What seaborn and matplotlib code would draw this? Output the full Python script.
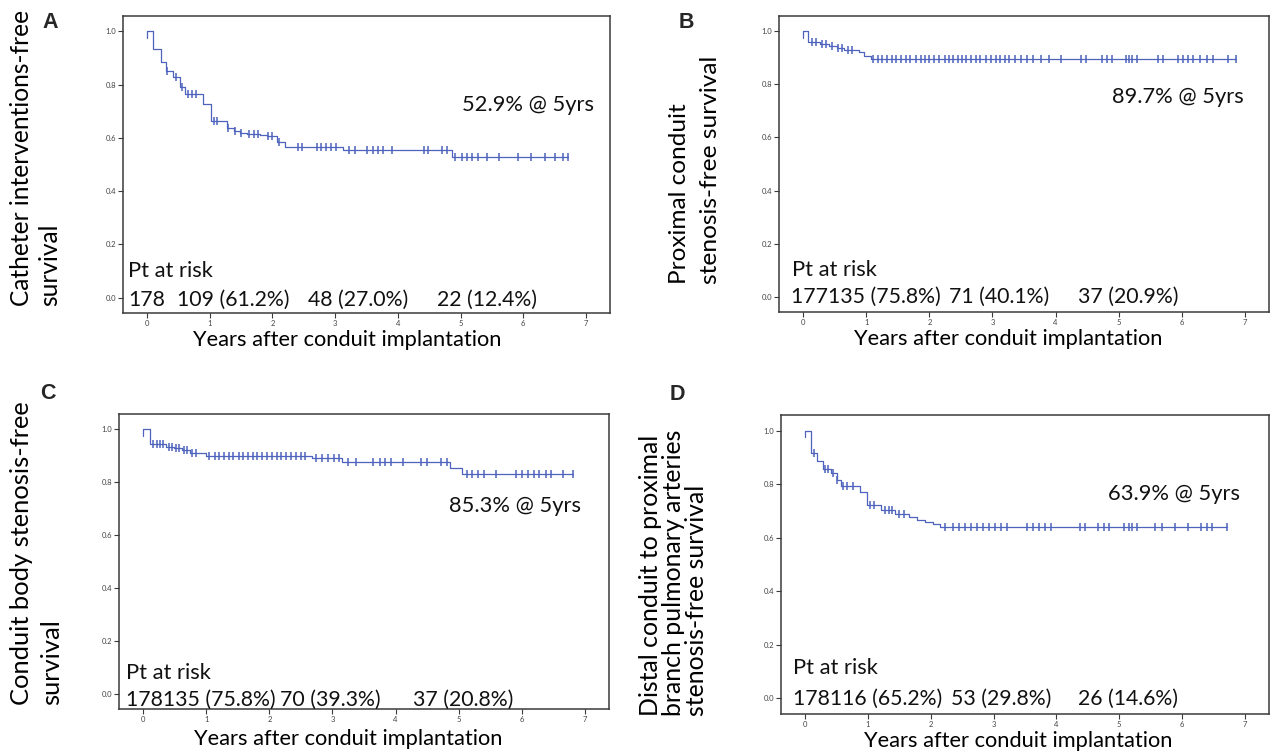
import numpy as np
import pandas as pd
import matplotlib
matplotlib.use("Agg")
import matplotlib.pyplot as plt
import seaborn as sns

# ---------------- data ----------------
# A: catheter interventions
A_event_t = [0.10, 0.22, 0.30, 0.42, 0.53, 0.60, 0.89, 1.02, 1.27, 1.38, 1.48, 1.59, 1.80, 1.91, 2.07, 2.20, 3.13, 4.87]
A_event_s = [0.935, 0.886, 0.853, 0.829, 0.791, 0.765, 0.728, 0.665, 0.639, 0.626, 0.620, 0.616, 0.611, 0.606, 0.586, 0.566, 0.553, 0.529]
A_censor_t = [0.32, 0.46, 0.55, 0.65, 0.71, 0.78, 1.07, 1.11, 1.29, 1.40, 1.50, 1.62, 1.70, 1.77, 1.93, 2.00,
              2.10, 2.41, 2.47, 2.71, 2.78, 2.86, 2.94, 3.02, 3.22, 3.31, 3.50, 3.61, 3.69, 3.77, 3.90, 4.41,
              4.48, 4.70, 4.78, 4.91, 5.02, 5.10, 5.18, 5.28, 5.42, 5.62, 5.92, 6.13, 6.35, 6.51, 6.64, 6.72]
A_risk = ["178", "109 (61.2%)", "48 (27.0%)", "22 (12.4%)"]
A_note = "52.9% @ 5yrs"
A_ylabel = ["Catheter interventions-free", "survival"]

# B: proximal conduit stenosis
B_event_t = [0.08, 0.27, 0.40, 0.53, 0.65, 0.88, 0.97, 1.07]
B_event_s = [0.960, 0.952, 0.945, 0.938, 0.930, 0.921, 0.909, 0.897]
B_censor_t = [0.14, 0.20, 0.30, 0.36, 0.45, 0.55, 0.61, 0.71, 0.78, 1.10, 1.18, 1.25, 1.33, 1.40, 1.47, 1.55,
              1.63, 1.70, 1.78, 1.86, 1.93, 2.00, 2.08, 2.16, 2.24, 2.31, 2.38, 2.46, 2.52, 2.58, 2.66, 2.74,
              2.81, 2.89, 2.97, 3.05, 3.12, 3.20, 3.27, 3.35, 3.45, 3.54, 3.64, 3.77, 3.89, 4.09, 4.41, 4.48,
              4.73, 4.81, 4.90, 5.11, 5.17, 5.22, 5.29, 5.62, 5.70, 5.94, 6.02, 6.10, 6.18, 6.29, 6.40, 6.49,
              6.73, 6.86]
B_risk = ["177135 (75.8%)", "71 (40.1%)", "37 (20.9%)"]
B_note = "89.7% @ 5yrs"
B_ylabel = ["Proximal conduit", "stenosis-free survival"]

# C: conduit body stenosis
C_event_t = [0.11, 0.36, 0.49, 0.61, 0.74, 0.99, 2.68, 3.15, 4.87, 5.06]
C_event_s = [0.945, 0.935, 0.929, 0.920, 0.911, 0.901, 0.893, 0.878, 0.853, 0.831]
C_censor_t = [0.15, 0.22, 0.27, 0.31, 0.40, 0.45, 0.52, 0.56, 0.65, 0.69, 0.78, 0.83, 1.05, 1.13, 1.20, 1.28,
              1.36, 1.43, 1.51, 1.58, 1.66, 1.74, 1.81, 1.89, 1.96, 2.04, 2.12, 2.19, 2.27, 2.34, 2.42, 2.50,
              2.57, 2.74, 2.83, 2.93, 3.02, 3.11, 3.25, 3.37, 3.65, 3.75, 3.84, 3.93, 4.12, 4.41, 4.50, 4.72,
              4.81, 5.13, 5.22, 5.31, 5.41, 5.59, 5.91, 6.00, 6.10, 6.19, 6.28, 6.38, 6.47, 6.66, 6.81]
C_risk = ["178135 (75.8%)", "70 (39.3%)", "37 (20.8%)"]
C_note = "85.3% @ 5yrs"
C_ylabel = ["Conduit body stenosis-free", "survival"]

# D: distal conduit to proximal branch pulmonary arteries stenosis
D_event_t = [0.09, 0.19, 0.28, 0.41, 0.50, 0.57, 0.87, 0.98, 1.20, 1.43, 1.65, 1.78, 1.90, 2.03, 2.15]
D_event_s = [0.916, 0.885, 0.858, 0.843, 0.817, 0.792, 0.769, 0.721, 0.703, 0.690, 0.678, 0.665, 0.659, 0.652, 0.639]
D_censor_t = [0.14, 0.31, 0.37, 0.44, 0.51, 0.60, 0.67, 0.76, 1.03, 1.10, 1.27, 1.33, 1.39, 1.49, 1.58, 2.22,
              2.35, 2.45, 2.54, 2.64, 2.73, 2.83, 2.92, 3.02, 3.11, 3.21, 3.53, 3.63, 3.72, 3.82, 3.91, 4.38,
              4.46, 4.67, 4.75, 4.83, 5.08, 5.15, 5.21, 5.28, 5.57, 5.68, 5.89, 6.10, 6.31, 6.39, 6.47, 6.72]
D_risk = ["178116 (65.2%)", "53 (29.8%)", "26 (14.6%)"]
D_note = "63.9% @ 5yrs"
D_ylabel = ["Distal conduit to proximal", "branch pulmonary arteries", "stenosis-free survival"]

x_ticks = [0, 1, 2, 3, 4, 5, 6, 7]
y_ticks = [0.0, 0.2, 0.4, 0.6, 0.8, 1.0]
x_label = "Years after conduit implantation"
risk_title = "Pt at risk"

# ---------------- layout (pixels on a 1270 x 754 canvas) ----------------
W, H = 1270, 754
LAYOUT = {
    "A": dict(box=(123, 16, 610, 313), letter=(50, 22), ylab_x=[10, 38], ylab_y=306, ylab_len=297,
              note=(462, 111), xlab=(347, 346), head=(128, 277), base=306, risk_x=[128, 177, 308, 437]),
    "B": dict(box=(779, 16, 1269, 312), letter=(686, 22), ylab_x=[669, 700], ylab_y=284, ylab_len=228,
              note=(1112, 103), xlab=(1008, 345), head=(792, 276), base=303, risk_x=[791, 949, 1078]),
    "C": dict(box=(119, 414, 609, 709), letter=(48, 393), ylab_x=[10, 40], ylab_y=705, ylab_len=305,
              note=(449, 512), xlab=(348, 745), head=(126, 679), base=706, risk_x=[126, 280, 413]),
    "D": dict(box=(781, 415, 1269, 714), letter=(677, 394), ylab_x=[639, 662, 685], ylab_y=716, ylab_len=282,
              note=(1108, 500), xlab=(1018, 747), head=(793, 674), base=705, risk_x=[793, 951, 1078]),
}

PANELS = {
    "A": (A_event_t, A_event_s, A_censor_t, A_risk, A_note, A_ylabel),
    "B": (B_event_t, B_event_s, B_censor_t, B_risk, B_note, B_ylabel),
    "C": (C_event_t, C_event_s, C_censor_t, C_risk, C_note, C_ylabel),
    "D": (D_event_t, D_event_s, D_censor_t, D_risk, D_note, D_ylabel),
}

CURVE = "#4d63bd"
SPINE = "#3a3a3a"
INK = "#111111"

sns.set_theme(style="white")
plt.rcParams["font.family"] = ["Lato", "DejaVu Sans"]

fig = plt.figure(figsize=(W / 100, H / 100), dpi=100)
fig.patch.set_facecolor("white")
renderer = fig.canvas.get_renderer()


def fx(px):
    return px / W


def fy(py):
    return 1 - py / H


def fit_size(s, target_px, **kw):
    """Font size (pt) at which the string `s` is `target_px` pixels long."""
    t = fig.text(0, 0, s, fontsize=10, **kw)
    width = t.get_window_extent(renderer).width
    t.remove()
    return 10 * target_px / width


body_size = fit_size(x_label, 310)
risk_size = fit_size(C_risk[0], 150)


def km_frame(event_t, event_s, censor_t):
    end = max(censor_t)
    t = [0.0, 0.0] + list(event_t) + [end]
    s = [0.975, 1.0] + list(event_s) + [event_s[-1]]
    curve = pd.DataFrame({"time": t, "surv": s})
    levels = np.array([1.0] + list(event_s))
    idx = np.searchsorted(np.array(event_t), np.array(censor_t), side="right")
    marks = pd.DataFrame({"time": censor_t, "surv": levels[idx]})
    return curve, marks


for key, (ev_t, ev_s, cen_t, risk, note, ylab) in PANELS.items():
    L = LAYOUT[key]
    l, t, r, b = L["box"]
    ax = fig.add_axes([fx(l), fy(b), fx(r - l), (b - t) / H])
    curve, marks = km_frame(ev_t, ev_s, cen_t)

    sns.lineplot(data=curve, x="time", y="surv", ax=ax, sort=False, estimator=None,
                 drawstyle="steps-post", color=CURVE, linewidth=0.9)
    sns.scatterplot(data=marks, x="time", y="surv", ax=ax, marker="|", s=36,
                    color=CURVE, linewidth=1.1, zorder=3)

    ax.set_xlim(-0.385, 7.385)
    ax.set_ylim(-0.058, 1.058)
    ax.set_xticks(x_ticks)
    ax.set_yticks(y_ticks)
    ax.set_xticklabels([str(v) for v in x_ticks])
    ax.set_yticklabels([f"{v:.1f}" for v in y_ticks])
    ax.set_xlabel("")
    ax.set_ylabel("")
    for sp in ax.spines.values():
        sp.set_visible(True)
        sp.set_color(SPINE)
        sp.set_linewidth(1.1)
    ax.tick_params(axis="both", which="major", direction="out", length=3.5, width=0.8,
                   color=SPINE, labelsize=5.5, labelcolor="#444444", pad=1.5,
                   left=True, bottom=True)
    ax.set_facecolor("white")

    # panel letter
    lx, ly = L["letter"]
    fig.text(fx(lx), fy(ly), key, fontsize=15.5, fontweight="bold",
             family=["Liberation Sans", "DejaVu Sans"], ha="center", va="center")

    # y-axis title, one rotated line per column
    ysize = fit_size(max(ylab, key=len), L["ylab_len"])
    for line_x, line in zip(L["ylab_x"], ylab):
        fig.text(fx(line_x), fy(L["ylab_y"]), line, rotation=90, fontsize=ysize,
                 ha="left", va="bottom", color="black")

    # x-axis title
    xx, xy = L["xlab"]
    fig.text(fx(xx), fy(xy), x_label, fontsize=body_size, ha="center", va="baseline", color="black")

    # 5-year estimate
    nx, ny = L["note"]
    fig.text(fx(nx), fy(ny), note, fontsize=body_size, ha="left", va="baseline", color=INK)

    # patients at risk
    hx, hy = L["head"]
    fig.text(fx(hx), fy(hy), risk_title, fontsize=body_size, ha="left", va="baseline", color=INK)
    for px_, lab in zip(L["risk_x"], risk):
        fig.text(fx(px_), fy(L["base"]), lab, fontsize=risk_size, ha="left", va="baseline", color=INK)

fig.savefig("out.png", dpi=100, facecolor="white")
